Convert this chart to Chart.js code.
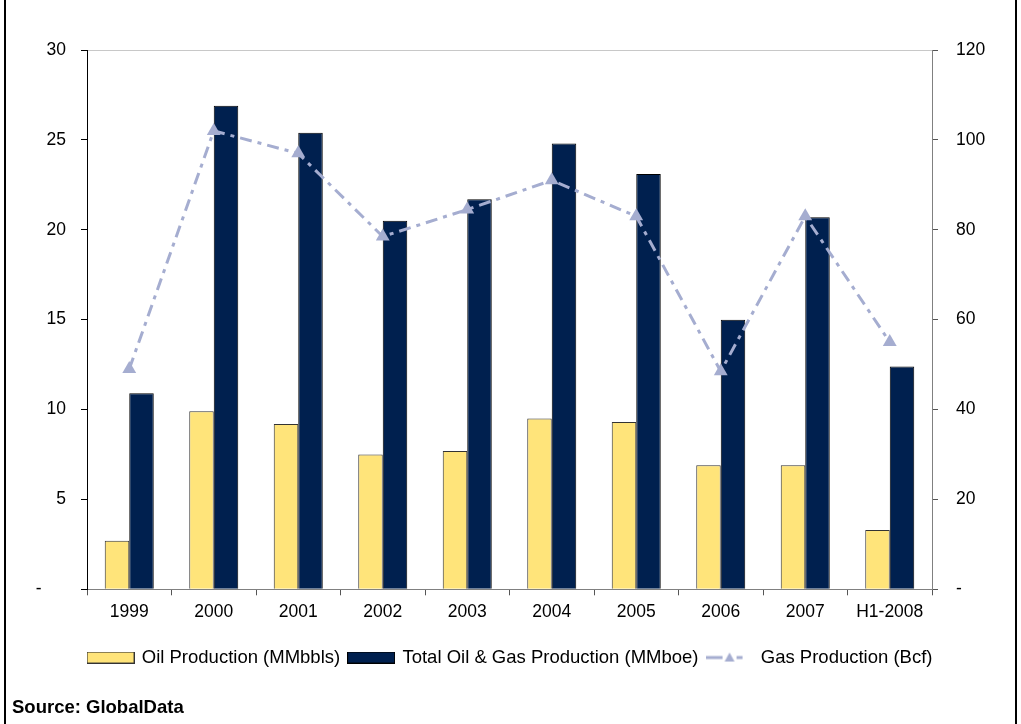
<!DOCTYPE html>
<html>
<head>
<meta charset="utf-8">
<script src="https://cdn.jsdelivr.net/npm/chart.js@4/dist/chart.umd.min.js"></script>
<style>
  html, body { margin: 0; padding: 0; background: #fff; }
  #wrap { position: relative; width: 1021px; height: 724px; }
</style>
</head>
<body>
<div id="wrap"><canvas id="prodChart" width="1021" height="724"></canvas></div>
<script>
// ---- data ----
const years = ['1999', '2000', '2001', '2002', '2003', '2004', '2005', '2006', '2007', 'H1-2008'];
const oilProduction = [2.7, 9.9, 9.2, 7.5, 7.7, 9.5, 9.3, 6.9, 6.9, 3.3];          // MMbbls
const totalProduction = [10.9, 26.9, 25.4, 20.5, 21.7, 24.8, 23.1, 15.0, 20.7, 12.4]; // MMboe
const gasProduction = [49, 102, 97, 78.5, 84.5, 91, 83, 48.5, 83, 55];             // Bcf
const leftTicks = [0, 5, 10, 15, 20, 25, 30];
const rightTicks = [0, 20, 40, 60, 80, 100, 120];

const OIL_COLOR = '#ffe47a';
const TOTAL_COLOR = '#00204f';
const GAS_COLOR = '#a5add0';
const FONT = "'Liberation Sans', Arial, sans-serif";

// small canvases used as legend markers
function boxSwatch(fill, stroke) {
    const c = document.createElement('canvas');
    c.width = 48; c.height = 12;
    const g = c.getContext('2d');
    g.fillStyle = fill;
    g.fillRect(0.5, 0.5, 47, 11);
    g.strokeStyle = stroke;
    g.lineWidth = 1;
    g.strokeRect(0.5, 0.5, 47, 11);
    return c;
}

function gasSwatch() {
    const c = document.createElement('canvas');
    c.width = 48; c.height = 12;
    const g = c.getContext('2d');
    g.strokeStyle = GAS_COLOR;
    g.lineWidth = 3;
    g.beginPath();
    g.moveTo(0, 6); g.lineTo(17, 6);
    g.moveTo(31, 6); g.lineTo(37, 6);
    g.stroke();
    g.fillStyle = GAS_COLOR;
    g.beginPath();
    g.moveTo(24, 1); g.lineTo(29, 10); g.lineTo(19, 10);
    g.closePath();
    g.fill();
    return c;
}

const legendMarkers = [boxSwatch(OIL_COLOR, '#333'), boxSwatch(TOTAL_COLOR, '#000'), gasSwatch()];

// white page with the black side rules
const frame = {
    id: 'frame',
    beforeDraw(chart) {
        const ctx = chart.ctx;
        ctx.save();
        ctx.fillStyle = '#fff';
        ctx.fillRect(0, 0, chart.width, chart.height);
        ctx.fillStyle = '#000';
        ctx.fillRect(4, 0, 2, chart.height);
        ctx.fillRect(1015, 0, 2, chart.height);
        ctx.restore();
    }
};

Chart.defaults.font.family = FONT;
Chart.defaults.font.size = 17.5;
Chart.defaults.color = '#000';

new Chart(document.getElementById('prodChart'), {
    type: 'bar',
    data: {
        labels: years,
        datasets: [
            {
                type: 'line',
                label: 'Gas Production (Bcf)',
                data: gasProduction,
                yAxisID: 'y1',
                borderColor: GAS_COLOR,
                backgroundColor: GAS_COLOR,
                borderWidth: 3,
                borderDash: [12, 6, 4, 6],
                pointStyle: 'triangle',
                pointRadius: 8,
                pointBorderWidth: 0,
                tension: 0,
                fill: false,
                order: 0
            },
            {
                label: 'Oil Production (MMbbls)',
                data: oilProduction,
                yAxisID: 'y',
                backgroundColor: OIL_COLOR,
                borderColor: '#333',
                borderWidth: 1,
                order: 1
            },
            {
                label: 'Total Oil & Gas Production (MMboe)',
                data: totalProduction,
                yAxisID: 'y',
                backgroundColor: TOTAL_COLOR,
                borderColor: '#000',
                borderWidth: 1,
                order: 1
            }
        ]
    },
    options: {
        responsive: false,
        animation: false,
        layout: { padding: { left: 12, right: 12, top: 50, bottom: 0 } },
        datasets: {
            bar: { barPercentage: 1, categoryPercentage: 0.58 }
        },
        scales: {
            x: {
                offset: true,
                grid: { offset: true, drawOnChartArea: false, tickLength: 6, tickColor: '#555' },
                border: { color: '#808080' },
                ticks: { padding: 6, maxRotation: 0 },
                afterFit: s => { s.height = 50; }
            },
            y: {
                position: 'left',
                min: 0, max: 30,
                afterBuildTicks: s => { s.ticks = leftTicks.map(v => ({ value: v })); },
                grid: {
                    color: c => (c.tick && c.tick.value === 30 ? '#c8c8c8' : 'rgba(0,0,0,0)'),
                    tickColor: '#000',
                    tickLength: 6
                },
                border: { color: '#000' },
                ticks: {
                    padding: 15,
                    callback: v => (v === 0 ? '-     ' : v)
                },
                afterFit: s => { s.width = 75; }
            },
            y1: {
                position: 'right',
                min: 0, max: 120,
                afterBuildTicks: s => { s.ticks = rightTicks.map(v => ({ value: v })); },
                grid: { drawOnChartArea: false, tickColor: '#555', tickLength: 6 },
                border: { color: '#808080' },
                ticks: {
                    padding: 18,
                    callback: v => (v === 0 ? '-' : v)
                },
                afterFit: s => { s.width = 77; }
            }
        },
        plugins: {
            tooltip: { enabled: false },
            legend: {
                position: 'bottom',
                labels: {
                    usePointStyle: true,
                    pointStyleWidth: 44,
                    boxHeight: 12,
                    padding: 9,
                    font: { size: 18.5 },
                    generateLabels: chart => {
                        // bars first, then the gas line
                        const order = [1, 2, 0];
                        return order.map((di, i) => ({
                            text: chart.data.datasets[di].label,
                            pointStyle: legendMarkers[i],
                            datasetIndex: di,
                            hidden: false,
                            lineWidth: 0
                        }));
                    }
                }
            },
            subtitle: {
                display: true,
                text: 'Source: GlobalData',
                position: 'bottom',
                align: 'start',
                color: '#000',
                font: { size: 18.5, weight: 'bold' },
                padding: { top: 20, bottom: 5 }
            }
        }
    },
    plugins: [frame]
});
</script>
</body>
</html>
